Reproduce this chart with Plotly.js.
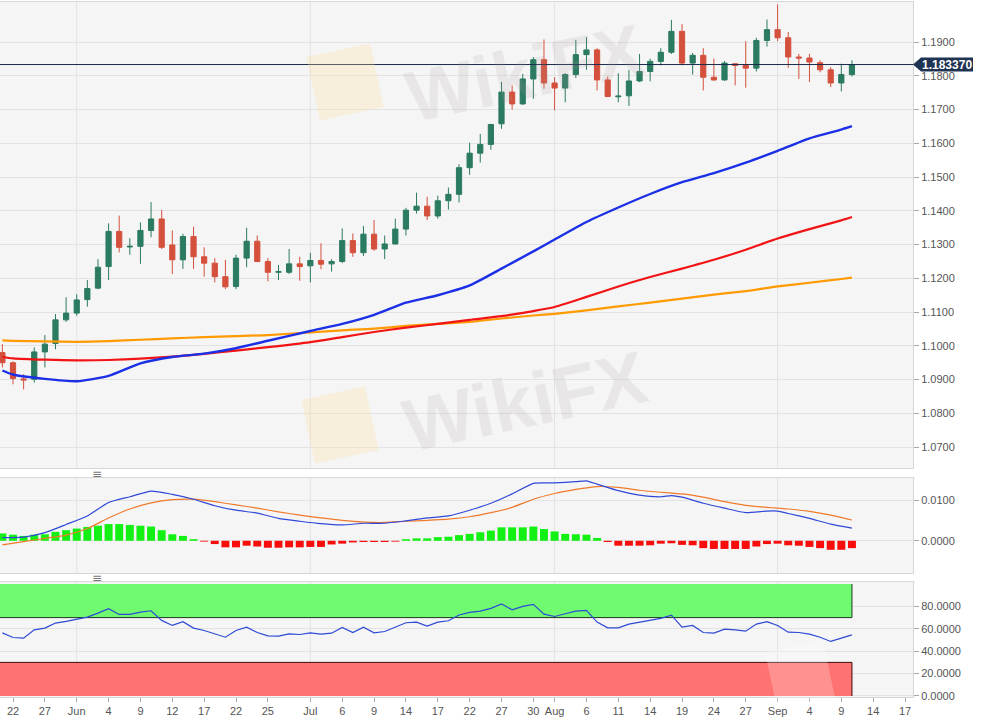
<!DOCTYPE html>
<html>
<head>
<meta charset="utf-8">
<script src="https://cdn.plot.ly/plotly-3.0.1.min.js"></script>
<style>
  html, body { margin: 0; padding: 0; background: #ffffff; }
  #chart { width: 981px; height: 727px; }
</style>
</head>
<body>
<div id="chart"></div>
<script>
// ---------- DATA ----------
const dates = [
  '2020-05-21','2020-05-22','2020-05-25','2020-05-26','2020-05-27','2020-05-28','2020-05-29',
  '2020-06-01','2020-06-02','2020-06-03','2020-06-04','2020-06-05',
  '2020-06-08','2020-06-09','2020-06-10','2020-06-11','2020-06-12',
  '2020-06-15','2020-06-16','2020-06-17','2020-06-18','2020-06-19',
  '2020-06-22','2020-06-23','2020-06-24','2020-06-25','2020-06-26',
  '2020-06-29','2020-06-30','2020-07-01','2020-07-02','2020-07-03',
  '2020-07-06','2020-07-07','2020-07-08','2020-07-09','2020-07-10',
  '2020-07-13','2020-07-14','2020-07-15','2020-07-16','2020-07-17',
  '2020-07-20','2020-07-21','2020-07-22','2020-07-23','2020-07-24',
  '2020-07-27','2020-07-28','2020-07-29','2020-07-30','2020-07-31',
  '2020-08-03','2020-08-04','2020-08-05','2020-08-06','2020-08-07',
  '2020-08-10','2020-08-11','2020-08-12','2020-08-13','2020-08-14',
  '2020-08-17','2020-08-18','2020-08-19','2020-08-20','2020-08-21',
  '2020-08-24','2020-08-25','2020-08-26','2020-08-27','2020-08-28',
  '2020-08-31','2020-09-01','2020-09-02','2020-09-03','2020-09-04',
  '2020-09-07','2020-09-08','2020-09-09','2020-09-10'
];
const openP = [
  1.0980,1.0950,1.0902,1.0901,1.0982,1.1007,1.1077,
  1.1097,1.1137,1.1171,1.1235,1.1339,
  1.1293,1.1295,1.1342,1.1376,1.1299,
  1.1255,1.1324,1.1264,1.1245,1.1205,
  1.1176,1.1260,1.1310,1.1250,1.1218,
  1.1218,1.1243,1.1237,1.1253,1.1243,
  1.1250,1.1312,1.1276,1.1331,1.1287,
  1.1302,1.1346,1.1402,1.1414,1.1385,
  1.1430,1.1449,1.1528,1.1571,1.1597,
  1.1658,1.1752,1.1717,1.1791,1.1848,
  1.1779,1.1764,1.1804,1.1863,1.1877,
  1.1788,1.1738,1.1741,1.1785,1.1813,
  1.1843,1.1870,1.1932,1.1838,1.1861,
  1.1796,1.1788,1.1836,1.1831,1.1823,
  1.1905,1.1937,1.1913,1.1856,1.1853,
  1.1839,1.1818,1.1779,1.1804
];
const highP = [
  1.1005,1.0954,1.0916,1.0995,1.1032,1.1094,1.1144,
  1.1153,1.1195,1.1257,1.1363,1.1386,
  1.1319,1.1366,1.1426,1.1403,1.1342,
  1.1332,1.1353,1.1292,1.1260,1.1255,
  1.1270,1.1350,1.1327,1.1260,1.1240,
  1.1287,1.1264,1.1276,1.1304,1.1257,
  1.1348,1.1333,1.1355,1.1373,1.1327,
  1.1377,1.1409,1.1454,1.1442,1.1445,
  1.1469,1.1538,1.1602,1.1628,1.1658,
  1.1782,1.1772,1.1806,1.1856,1.1908,
  1.1796,1.1808,1.1907,1.1915,1.1882,
  1.1798,1.1808,1.1818,1.1865,1.1851,
  1.1882,1.1966,1.1954,1.1868,1.1882,
  1.1851,1.1844,1.1836,1.1903,1.1913,
  1.1967,1.2012,1.1930,1.1865,1.1865,
  1.1846,1.1826,1.1836,1.1846
];
const lowP = [
  1.0936,1.0886,1.0871,1.0891,1.0936,1.0990,1.1071,
  1.1089,1.1116,1.1168,1.1195,1.1277,
  1.1270,1.1243,1.1322,1.1287,1.1213,
  1.1228,1.1228,1.1205,1.1188,1.1168,
  1.1168,1.1233,1.1248,1.1191,1.1195,
  1.1213,1.1193,1.1188,1.1227,1.1220,
  1.1245,1.1264,1.1266,1.1282,1.1257,
  1.1300,1.1327,1.1392,1.1373,1.1377,
  1.1404,1.1425,1.1507,1.1543,1.1581,
  1.1643,1.1700,1.1714,1.1732,1.1762,
  1.1698,1.1722,1.1794,1.1818,1.1757,
  1.1737,1.1722,1.1711,1.1782,1.1784,
  1.1831,1.1865,1.1831,1.1804,1.1757,
  1.1785,1.1786,1.1772,1.1765,1.1813,
  1.1887,1.1903,1.1824,1.1791,1.1782,
  1.1811,1.1767,1.1754,1.1798
];
const closeP = [
  1.0950,1.0903,1.0899,1.0982,1.1005,1.1077,1.1097,
  1.1136,1.1170,1.1233,1.1339,1.1292,
  1.1295,1.1342,1.1376,1.1292,1.1255,
  1.1324,1.1264,1.1245,1.1205,1.1175,
  1.1260,1.1310,1.1250,1.1218,1.1220,
  1.1243,1.1235,1.1253,1.1242,1.1250,
  1.1312,1.1276,1.1331,1.1287,1.1302,
  1.1346,1.1402,1.1414,1.1385,1.1430,
  1.1449,1.1528,1.1571,1.1597,1.1656,
  1.1752,1.1717,1.1791,1.1848,1.1779,
  1.1764,1.1804,1.1863,1.1877,1.1788,
  1.1739,1.1740,1.1785,1.1813,1.1843,
  1.1870,1.1932,1.1838,1.1861,1.1796,
  1.1788,1.1838,1.1831,1.1823,1.1905,
  1.1937,1.1913,1.1856,1.1853,1.1841,
  1.1818,1.1779,1.1804,1.18337
];
const currentPrice = 1.18337;

// Moving averages sampled at these dates
const maDates = ['2020-05-21','2020-05-22','2020-05-27','2020-06-01','2020-06-04','2020-06-09','2020-06-12',
  '2020-06-17','2020-06-22','2020-06-25','2020-07-01','2020-07-06','2020-07-09','2020-07-14','2020-07-17',
  '2020-07-22','2020-07-27','2020-07-30','2020-08-03','2020-08-06','2020-08-11','2020-08-14','2020-08-19',
  '2020-08-24','2020-08-27','2020-09-01','2020-09-04','2020-09-09','2020-09-10'];
const maBlue = [1.0927,1.0915,1.0902,1.0895,1.0911,1.0948,1.0967,1.0977,1.0993,1.1015,1.1044,1.1065,1.1092,
  1.1128,1.1150,1.1179,1.1229,1.1280,1.1315,1.1367,1.1410,1.1450,1.1485,1.1512,1.1543,1.1578,1.1615,1.1641,1.1651];
const maRed = [1.0967,1.0963,1.0959,1.0957,1.0958,1.0962,1.0968,1.0976,1.0986,1.0996,1.1011,1.1026,1.1041,
  1.1054,1.1065,1.1077,1.1088,1.1103,1.1115,1.1145,1.1176,1.1204,1.1229,1.1255,1.1285,1.1318,1.1346,1.1372,1.1382];
const maOrange = [1.1016,1.1015,1.1013,1.1012,1.1014,1.1018,1.1022,1.1026,1.1029,1.1032,1.1040,1.1046,1.1051,
  1.1059,1.1065,1.1071,1.1081,1.1090,1.1095,1.1105,1.1117,1.1128,1.1140,1.1152,1.1162,1.1176,1.1187,1.1198,1.1202];

// MACD lines sampled at these dates
const macdDates = ['2020-05-21','2020-05-25','2020-05-27','2020-05-29','2020-06-02','2020-06-04','2020-06-08',
  '2020-06-10','2020-06-12','2020-06-16','2020-06-18','2020-06-22','2020-06-24','2020-06-26','2020-06-30',
  '2020-07-02','2020-07-06','2020-07-08','2020-07-10','2020-07-14','2020-07-16','2020-07-20','2020-07-22',
  '2020-07-24','2020-07-28','2020-07-30','2020-08-03','2020-08-05','2020-08-06','2020-08-07','2020-08-11',
  '2020-08-13','2020-08-17','2020-08-18','2020-08-19','2020-08-21','2020-08-25','2020-08-27','2020-08-31',
  '2020-09-01','2020-09-02','2020-09-04','2020-09-08','2020-09-10'];
const macdLine = [0.0008,0.0009,0.0020,0.0040,0.0061,0.0094,0.0108,0.0122,0.0114,0.0102,0.0086,0.0075,0.0068,
  0.0055,0.0048,0.0042,0.0039,0.0043,0.0043,0.0049,0.0056,0.0061,0.0075,0.0092,0.0115,0.0141,0.0142,0.0145,
  0.0147,0.0139,0.0123,0.0112,0.0108,0.0111,0.0107,0.0092,0.0080,0.0069,0.0073,0.0073,0.0067,0.0055,0.0041,0.0031];
const signalLine = [-0.0010,-0.0002,0.0006,0.0014,0.0030,0.0056,0.0078,0.0093,0.0101,0.0102,0.0096,0.0088,0.0080,
  0.0071,0.0063,0.0056,0.0050,0.0046,0.0045,0.0048,0.0050,0.0053,0.0059,0.0069,0.0082,0.0102,0.0116,0.0126,
  0.0130,0.0133,0.0131,0.0124,0.0119,0.0117,0.0115,0.0107,0.0096,0.0087,0.0082,0.0080,0.0078,0.0072,0.0063,0.0051];
// MACD histogram, one value per candle
const macdHist = [
  0.0018,0.0015,0.0012,0.0015,0.0016,0.0022,0.0026,
  0.0030,0.0034,0.0037,0.0041,0.0041,
  0.0039,0.0037,0.0035,0.0026,0.0016,
  0.0012,0.0004,-0.0002,-0.0008,-0.0016,
  -0.0016,-0.0012,-0.0014,-0.0017,-0.0017,
  -0.0016,-0.0016,-0.0015,-0.0015,-0.0009,
  -0.0007,-0.0004,-0.0003,-0.0003,-0.0003,
  -0.0002,0.0004,0.0006,0.0006,0.0009,
  0.0010,0.0014,0.0017,0.0021,0.0025,
  0.0033,0.0033,0.0033,0.0035,0.0029,
  0.0023,0.0017,0.0016,0.0015,0.0007,
  -0.0003,-0.0012,-0.0012,-0.0012,-0.0011,
  -0.0007,-0.0006,-0.0010,-0.0011,-0.0018,
  -0.0020,-0.0020,-0.0020,-0.0020,-0.0014,
  -0.0008,-0.0007,-0.0011,-0.0012,-0.0015,
  -0.0018,-0.0022,-0.0022,-0.0018
];
// RSI, one value per candle
const rsi = [
  56.4,52.2,51.6,59.1,60.6,65.1,66.6,
  68.7,70.4,74.0,77.9,72.8,
  72.8,74.9,76.1,67.5,63.0,
  66.3,60.6,58.5,55.5,52.5,
  58.5,61.5,56.7,53.7,53.4,
  55.5,54.9,56.4,55.2,56.1,
  61.2,56.7,61.5,56.4,57.6,
  61.2,65.4,66.0,62.4,66.0,
  67.2,72.3,74.6,75.8,78.2,
  82.1,77.0,80.0,81.8,73.1,
  71.0,73.4,75.8,76.4,66.0,
  60.9,60.9,64.2,66.0,67.8,
  69.3,72.2,61.5,63.0,56.7,
  56.1,59.7,59.1,57.9,64.2,
  66.3,63.0,57.0,56.7,55.2,
  52.5,48.7,51.6,54.6
];
const rsiOverbought = 70, rsiOversold = 30, rsiMax = 100, rsiMin = 0;

// Axis ticks
const tickDates = ['2020-05-22','2020-05-27','2020-06-01','2020-06-04','2020-06-09','2020-06-12','2020-06-17',
  '2020-06-22','2020-06-25','2020-07-01','2020-07-06','2020-07-09','2020-07-14','2020-07-17','2020-07-22',
  '2020-07-27','2020-07-30','2020-08-03','2020-08-06','2020-08-11','2020-08-14','2020-08-19','2020-08-24',
  '2020-08-27','2020-09-01','2020-09-04','2020-09-09','2020-09-14','2020-09-17'];
const tickLabels = ['22','27','Jun','4','9','12','17','22','25','Jul','6','9','14','17','22','27','30','Aug',
  '6','11','14','19','24','27','Sep','4','9','14','17'];
const monthStarts = ['2020-06-01','2020-07-01','2020-08-03','2020-09-01'];
const priceTicks = [1.07,1.08,1.09,1.10,1.11,1.12,1.13,1.14,1.15,1.16,1.17,1.18,1.19];
const macdTicks = [0, 0.01];
const rsiTicks = [0, 20, 40, 60, 80];

// ---------- CHART ----------
const xRange = ['2020-05-20 18:36', '2020-09-17 18:00'];
const lastDate = dates[dates.length - 1];
const FONT = 'Liberation Sans, Arial, sans-serif';
const tickFont = {family: FONT, size: 11, color: '#555555'};
const gridC = '#e3e3e3', borderC = '#d6d6d6';

const traces = [
  {type: 'scatter', mode: 'lines', x: maDates, y: maOrange, xaxis: 'x', yaxis: 'y',
   line: {color: '#ff9a00', width: 2.2, shape: 'spline', smoothing: 0.6}, hoverinfo: 'skip'},
  {type: 'scatter', mode: 'lines', x: maDates, y: maRed, xaxis: 'x', yaxis: 'y',
   line: {color: '#f21414', width: 2.2, shape: 'spline', smoothing: 0.6}, hoverinfo: 'skip'},
  {type: 'scatter', mode: 'lines', x: maDates, y: maBlue, xaxis: 'x', yaxis: 'y',
   line: {color: '#1a2fe6', width: 2.4, shape: 'spline', smoothing: 0.6}, hoverinfo: 'skip'},
  {type: 'candlestick', x: dates, open: openP, high: highP, low: lowP, close: closeP,
   xaxis: 'x', yaxis: 'y', whiskerwidth: 0,
   increasing: {line: {color: '#2b7a62', width: 1}, fillcolor: '#2b7a62'},
   decreasing: {line: {color: '#d4503d', width: 1}, fillcolor: '#d4503d'}},
  // MACD
  {type: 'bar', x: dates, y: macdHist, xaxis: 'x2', yaxis: 'y2',
   marker: {color: macdHist.map(v => v >= 0 ? '#13f013' : '#f80c0c'), line: {width: 0}}},
  {type: 'scatter', mode: 'lines', x: macdDates, y: signalLine, xaxis: 'x2', yaxis: 'y2',
   line: {color: '#f07a2a', width: 1.2, shape: 'spline', smoothing: 0.5}},
  {type: 'scatter', mode: 'lines', x: macdDates, y: macdLine, xaxis: 'x2', yaxis: 'y2',
   line: {color: '#3048d8', width: 1.2, shape: 'spline', smoothing: 0.5}},
  // RSI zones
  {type: 'scatter', mode: 'lines', x: [xRange[0], lastDate, lastDate, xRange[0]],
   y: [rsiOverbought, rsiOverbought, rsiMax, rsiMax], fill: 'toself', fillcolor: '#70fa70',
   line: {width: 0}, xaxis: 'x3', yaxis: 'y3'},
  {type: 'scatter', mode: 'lines', x: [xRange[0], lastDate, lastDate, xRange[0]],
   y: [rsiMin, rsiMin, rsiOversold, rsiOversold], fill: 'toself', fillcolor: '#ff7272',
   line: {width: 0}, xaxis: 'x3', yaxis: 'y3'},
  {type: 'scatter', mode: 'lines', x: [xRange[0], lastDate, lastDate],
   y: [rsiOverbought, rsiOverbought, rsiMax], line: {color: '#1d3a1d', width: 1}, xaxis: 'x3', yaxis: 'y3'},
  {type: 'scatter', mode: 'lines', x: [xRange[0], lastDate, lastDate],
   y: [rsiOversold, rsiOversold, rsiMin], line: {color: '#3a0a0a', width: 1}, xaxis: 'x3', yaxis: 'y3'},
  {type: 'scatter', mode: 'lines', x: dates, y: rsi, xaxis: 'x3', yaxis: 'y3',
   line: {color: '#2c4ad4', width: 1.2}}
];

function xAxis(anchor, labels) {
  const ax = {
    type: 'date', range: xRange, anchor: anchor,
    rangebreaks: [{bounds: ['sat', 'mon']}],
    showgrid: false, zeroline: false,
    showline: true, mirror: true, linecolor: borderC, linewidth: 1,
    rangeslider: {visible: false}, fixedrange: true
  };
  if (labels) {
    ax.tickmode = 'array'; ax.tickvals = tickDates; ax.ticktext = tickLabels;
    ax.ticks = 'outside'; ax.ticklen = 4; ax.tickcolor = '#aaaaaa'; ax.tickfont = tickFont;
  } else {
    ax.showticklabels = false; ax.ticks = '';
  }
  return ax;
}
function yAxis(domain, range, tickvals, anchor) {
  return {
    domain: domain, range: range, side: 'right', anchor: anchor,
    tickmode: 'array', tickvals: tickvals, tickformat: '.4f',
    ticks: 'outside', ticklen: 5, tickcolor: '#aaaaaa', tickfont: tickFont,
    showgrid: true, gridcolor: gridC, gridwidth: 1, zeroline: false,
    showline: true, mirror: true, linecolor: borderC, linewidth: 1, fixedrange: true
  };
}

const shapes = [];
monthStarts.forEach(d => {
  ['y', 'y2', 'y3'].forEach((yr, k) => {
    shapes.push({type: 'line', xref: ['x', 'x2', 'x3'][k], yref: yr + ' domain', x0: d, x1: d, y0: 0, y1: 1,
      line: {color: gridC, width: 1}, layer: 'below'});
  });
});
shapes.push({type: 'line', xref: 'paper', yref: 'y', x0: 0, x1: 1, y0: currentPrice, y1: currentPrice,
  line: {color: '#1c2d4d', width: 1}});
shapes.push({type: 'path', xref: 'paper', yref: 'y', xsizemode: 'pixel', ysizemode: 'pixel',
  xanchor: 1, yanchor: currentPrice, path: 'M0,0 L8,7 L60,7 L60,-7 L8,-7 Z',
  fillcolor: '#1f3352', line: {width: 0}});

const wm = 'rgba(165,155,155,0.16)';
const logo = 'rgba(250,222,150,0.28)';
const annotations = [
  {xref: 'paper', yref: 'y', x: 1, y: currentPrice, xanchor: 'center', yanchor: 'middle', xshift: 34, showarrow: false,
   text: '<b>' + currentPrice.toFixed(6) + '</b>', font: {family: FONT, size: 12, color: '#ffffff'}},
  {xref: 'paper', yref: 'paper', x: 0.106, y: 0.3209, xanchor: 'center', yanchor: 'middle', showarrow: false, text: '≡',
   font: {family: 'DejaVu Sans', size: 12, color: '#777777'}},
  {xref: 'paper', yref: 'paper', x: 0.106, y: 0.1712, xanchor: 'center', yanchor: 'middle', showarrow: false, text: '≡',
   font: {family: 'DejaVu Sans', size: 12, color: '#777777'}},
  {xref: 'paper', yref: 'paper', x: 0.575, y: 0.898, xanchor: 'center', yanchor: 'middle', showarrow: false, textangle: -12,
   text: '<b>WikiFX</b>', font: {family: FONT, size: 72, color: wm}},
  {xref: 'paper', yref: 'paper', x: 0.575, y: 0.425, xanchor: 'center', yanchor: 'middle', showarrow: false, textangle: -12,
   text: '<b>WikiFX</b>', font: {family: FONT, size: 74, color: wm}},
  {xref: 'paper', yref: 'paper', x: 0.378, y: 0.885, xanchor: 'center', yanchor: 'middle', showarrow: false, textangle: -12,
   text: ' ', width: 62, height: 62, bgcolor: logo},
  {xref: 'paper', yref: 'paper', x: 0.372, y: 0.391, xanchor: 'center', yanchor: 'middle', showarrow: false, textangle: -12,
   text: ' ', width: 62, height: 62, bgcolor: logo},
  {xref: 'paper', yref: 'paper', x: 0.876, y: 0.032, xanchor: 'center', yanchor: 'middle', showarrow: false, textangle: -12,
   text: ' ', width: 56, height: 56, bgcolor: 'rgba(255,255,255,0.22)'}
];

const layout = {
  width: 981, height: 727,
  margin: {l: 0, r: 68, t: 2, b: 30},
  paper_bgcolor: '#ffffff', plot_bgcolor: '#f5f5f5',
  showlegend: false, hovermode: false, dragmode: false,
  bargap: 0.25,
  font: {family: FONT},
  xaxis: xAxis('y', false),
  xaxis2: xAxis('y2', false),
  xaxis3: xAxis('y3', true),
  yaxis: yAxis([0.3295, 1], [1.0638, 1.2019], priceTicks, 'x'),
  yaxis2: yAxis([0.1784, 0.3151], [-0.0079, 0.0154], macdTicks, 'x2'),
  yaxis3: yAxis([0, 0.1655], [-0.9, 101.8], rsiTicks, 'x3'),
  shapes: shapes,
  annotations: annotations
};

Plotly.newPlot('chart', traces, layout, {staticPlot: true, displayModeBar: false});
</script>
</body>
</html>
